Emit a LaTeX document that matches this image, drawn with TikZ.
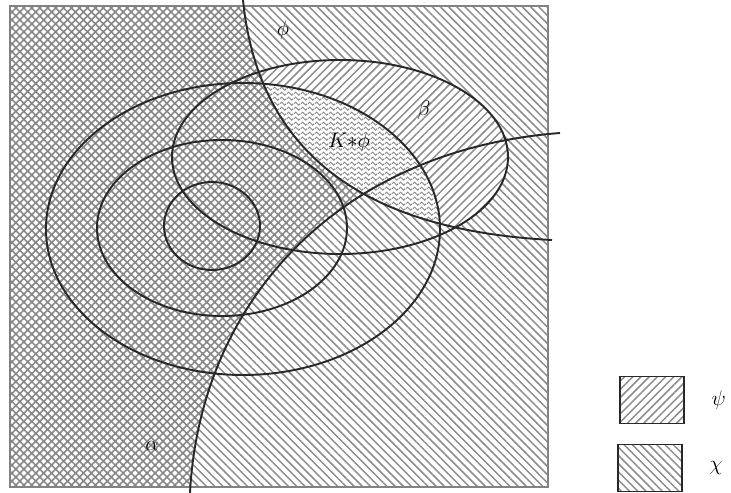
\documentclass[tikz,border=0pt]{standalone}
\usepackage{tikz}
\usetikzlibrary{patterns.meta,positioning}
\definecolor{hatchGray}{RGB}{140,140,140}
\definecolor{crossGray}{RGB}{135,135,135}
\definecolor{edgeInk}{RGB}{40,40,40}
\definecolor{frameGray}{RGB}{130,130,130}
\pgfdeclarepattern{
  name=wavyK,
  bottom left={\pgfpoint{0pt}{0pt}}, top right={\pgfpoint{4pt}{3pt}},
  tile size={\pgfpoint{4pt}{3pt}},
  code={\pgfsetlinewidth{0.6pt}
    \pgfpathmoveto{\pgfpoint{0pt}{1.5pt}}\pgfpathlineto{\pgfpoint{1pt}{2.5pt}}
    \pgfpathlineto{\pgfpoint{3pt}{0.5pt}}\pgfpathlineto{\pgfpoint{4pt}{1.5pt}}
    \pgfusepath{stroke}}
}
% the two boundary curves (pixel units, y downwards)
\newcommand{\phiedge}{(243,0) .. controls (258,150) and (360,230) .. (552,240)}
\newcommand{\alphaedge}{(190,493) .. controls (200,300) and (340,150) .. (560,133)}
\tikzset{
  chifill/.style={preaction={fill=white}, pattern={Lines[angle=-45,distance=3.3pt,line width=0.85pt]}, pattern color=hatchGray},
  psifill/.style={preaction={fill=white}, pattern={Lines[angle=45,distance=3.3pt,line width=0.85pt]}, pattern color=hatchGray},
  bothfill/.style={preaction={fill=white}, pattern={Hatch[angle=45,distance=3.2pt,line width=0.9pt]}, pattern color=crossGray},
  kfill/.style={preaction={fill=white}, pattern=wavyK, pattern color=hatchGray},
  region/.style={draw=edgeInk, line width=1.1pt},
  frame/.style={draw=frameGray, line width=0.8pt},
  legbox/.style={draw=edgeInk, line width=0.6pt, minimum width=1.28cm, minimum height=0.94cm, inner sep=0pt},
  lbl/.style={font=\large, inner sep=1pt}
}
\begin{document}
\begin{tikzpicture}[x=0.02cm, y=-0.02cm]
  \useasboundingbox (0,0) rectangle (731,493);
  % chi everywhere
  \fill[chifill] (10,6) rectangle (548,487);
  % phi side: beta and the K*phi part
  \begin{scope}
    \clip \phiedge -- (600,240) -- (600,-20) -- cycle;
    \fill[psifill] (340,157) ellipse [x radius=168, y radius=97];
    \fill[kfill] (243,229) ellipse [x radius=197, y radius=146];
  \end{scope}
  % left part: both
  \begin{scope}
    \clip \phiedge -- (600,240) -- (600,520) -- (-20,520) -- (-20,0) -- cycle;
    \clip \alphaedge -- (600,133) -- (600,-20) -- (-20,-20) -- (-20,493) -- cycle;
    \fill[bothfill] (10,6) rectangle (548,487);
  \end{scope}
  \draw[frame] (10,6) rectangle (548,487);
  % spheres
  \draw[region] (212,226) ellipse [x radius=48, y radius=44];
  \draw[region] (222,228) ellipse [x radius=125, y radius=88];
  \draw[region] (243,229) ellipse [x radius=197, y radius=146];
  \draw[region] (340,157) ellipse [x radius=168, y radius=97];
  \draw[region] \phiedge;
  \draw[region] \alphaedge;
  % labels
  \node[lbl] (philbl) at (283,30) {$\phi$};
  \node[lbl] (betalbl) at (424,110) {$\beta$};
  \node[lbl] (klbl) at (349,142) {$K{*}\phi$};
  \node[lbl] (alphalbl) at (152,446) {$\alpha$};
  % legend
  \node[legbox, psifill] (psibox) at (652,400) {};
  \node[legbox, chifill] (chibox) at (650,468) {};
  \node[lbl, right=0.5cm of psibox] (psilbl) {$\psi$};
  \node[lbl, right=0.5cm of chibox] (chilbl) {$\chi$};
\end{tikzpicture}
\end{document}
